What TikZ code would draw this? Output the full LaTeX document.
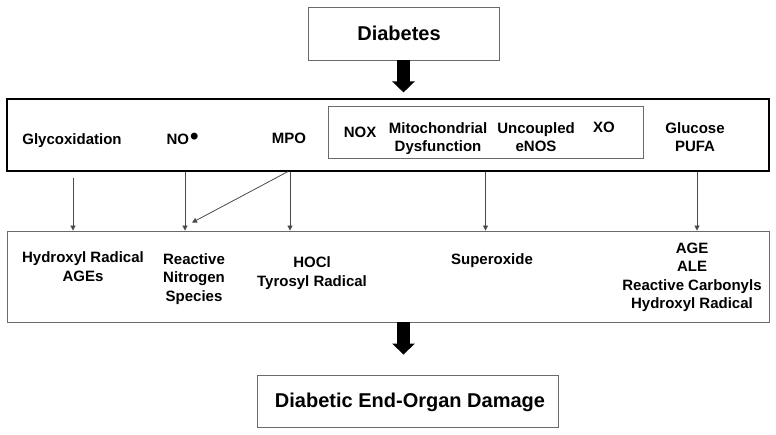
\documentclass[tikz,border=0pt]{standalone}
\usepackage{fontspec}
\setmainfont{Liberation Sans}
\usetikzlibrary{arrows.meta,calc}
\definecolor{boxgray}{HTML}{6A6A6A}
\definecolor{arrgray}{HTML}{4A4A4A}
\begin{document}
\begin{tikzpicture}[x=1pt,y=-1pt,
  frame/.style={draw=boxgray, line width=0.8pt, inner sep=0pt, fill=white},
  blackframe/.style={draw=black, line width=1.1pt, inner sep=0pt},
  lbl/.style={inner sep=0pt, anchor=north, align=center, font=\bfseries\fontsize{15}{18.7}\selectfont},
  biglbl/.style={inner sep=0pt, font=\bfseries\fontsize{20}{24}\selectfont},
  thinarr/.style={draw=arrgray, line width=0.8pt, -{Triangle[length=5pt 0, width=5pt 0]}},
  fatarr/.style={draw=black, line width=13pt, -{Triangle[length=11pt 0, width=22pt 0]}}]
\useasboundingbox (0,0) rectangle (776,435);
% boxes
\node[frame, minimum width=191pt, minimum height=53pt] (diab) at (403.5,33.5) {};
\node[biglbl] (diabt) at (399,33) {Diabetes};
\node[blackframe, minimum width=762pt, minimum height=72pt] (topbox) at (388,135) {};
\node[frame, minimum width=315pt, minimum height=52pt] (inner) at (485.5,132) {};
\node[frame, minimum width=762pt, minimum height=91pt] (midbox) at (388,276.5) {};
\node[frame, minimum width=301pt, minimum height=52pt] (endbox) at (407.5,401) {};
\node[biglbl] (endt) at (410,402) {Diabetic End-Organ Damage};
% top labels
\node[lbl] (glyco) at (72,133) {Glycoxidation};
\node[lbl] (no) at (182.5,133) {NO\kern1pt\raisebox{0.3pt}{\fontsize{24}{24}\selectfont •}};
\node[lbl] (mpo) at (289,133) {MPO};
\node[lbl] (nox) at (360,127) {NOX};
\node[lbl] (mito) at (438,122) {Mitochondrial\\Dysfunction};
\node[lbl] (enos) at (536,122) {Uncoupled\\eNOS};
\node[lbl] (xo) at (604,122) {XO};
\node[lbl] (gluc) at (695,122) {Glucose\\PUFA};
% middle labels
\node[lbl] (hyd) at (83,251.7) {Hydroxyl Radical\\AGEs};
\node[lbl] (rns) at (194,253) {Reactive\\Nitrogen\\Species};
\node[lbl] (hocl) at (312,256.7) {HOCl\\Tyrosyl Radical};
\node[lbl] (sup) at (492,253) {Superoxide};
\node[lbl, font=\bfseries\fontsize{15}{18.4}\selectfont] (age) at (692,242.7) {AGE\\ALE\\Reactive Carbonyls\\Hydroxyl Radical};
% thick arrows
\draw[fatarr, shorten >=6pt] (diab.south) -- (diab.south |- topbox.north);
\draw[fatarr, shorten >=20pt] (midbox.south -| diab.south) -- (endbox.north -| diab.south);
% thin arrows
\draw[thinarr, shorten <=6pt] ([xshift=1pt]topbox.south -| glyco) -- ([xshift=1pt]midbox.north -| glyco);
\draw[thinarr] ([xshift=2.5pt]topbox.south -| no) -- ([xshift=2.5pt]midbox.north -| no);
\draw[thinarr] ([xshift=1pt]topbox.south -| mpo) -- ([xshift=1pt]midbox.north -| mpo);
\draw[thinarr] ([xshift=-1pt]topbox.south -| mpo) -- ($(midbox.north -| no)+(9.5,-8)$);
\draw[thinarr] (topbox.south -| inner.south) -- (midbox.north -| inner.south);
\draw[thinarr] ([xshift=2pt]topbox.south -| gluc) -- ([xshift=2pt]midbox.north -| gluc);
\end{tikzpicture}
\end{document}
